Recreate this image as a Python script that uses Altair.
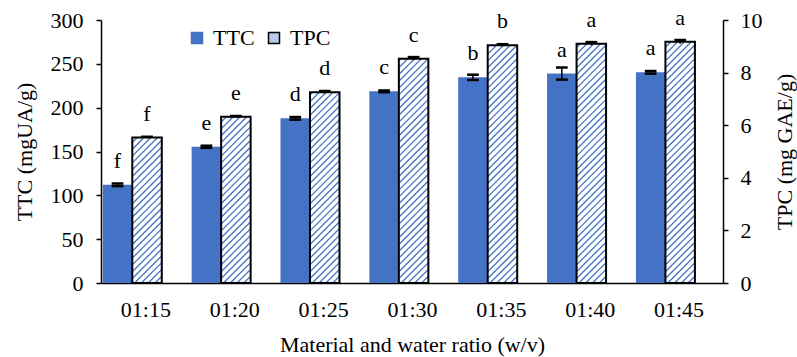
import json
import altair as alt
import pandas as pd

# ---------------- data ----------------
categories = ["01:15", "01:20", "01:25", "01:30", "01:35", "01:40", "01:45"]
ttc = [112.0, 155.4, 187.8, 218.6, 234.6, 238.9, 240.3]
ttc_err = [1.5, 1.2, 1.5, 1.0, 3.0, 6.9, 1.5]
tpc = [5.53, 6.32, 7.25, 8.53, 9.04, 9.10, 9.17]
tpc_err = [0.03, 0.03, 0.05, 0.06, 0.04, 0.06, 0.07]
ttc_letters = ["f", "e", "d", "c", "b", "a", "a"]
tpc_letters = ["f", "e", "d", "c", "b", "a", "a"]

# ---------------- layout constants ----------------
W, H = 622, 263
PXX = W / 7.0          # px per category unit
PXY = H / 10.0         # px per TPC unit
TTC_L, TTC_R = 0.02, 0.352
TPC_L, TPC_R = 0.352, 0.684
TTC_C = (TTC_L + TTC_R) / 2
TPC_C = (TPC_L + TPC_R) / 2
CAP = 0.066
BW = (TPC_R - TPC_L) * PXX
S = 6.8
FONT = "Liberation Serif"
FS = 22
BLUE = "#4472C4"

df = pd.DataFrame({
    "idx": list(range(len(categories))),
    "cat": categories,
    "ttc": ttc, "ttc_err": ttc_err,
    "tpc": tpc, "tpc_err": tpc_err,
    "ttc_lab": ttc_letters, "tpc_lab": tpc_letters,
})

base = alt.Chart(df)


def xs():
    return alt.Scale(domain=[0, 7], nice=False, zero=False)


def yl():
    return alt.Scale(domain=[0, 300], nice=False, zero=True)


def yr():
    return alt.Scale(domain=[0, 10], nice=False, zero=True)


def x_axis():
    return alt.Axis(
        values=[i + 0.5 for i in range(len(categories))],
        labelExpr=json.dumps(categories) + "[floor(datum.value)]",
        ticks=False, grid=False, labelPadding=16, labelFlush=False,
        title="Material and water ratio (w/v)", titlePadding=14,
    )


def X(field):
    return alt.X(field, scale=xs(), axis=x_axis())


yl_axis = alt.Axis(
    orient="left", values=list(range(0, 301, 50)), tickSize=5, grid=False,
    labelPadding=13, labelFlush=False, title="TTC (mgUA/g)", titlePadding=14,
)
yr_axis = alt.Axis(
    orient="right", values=list(range(0, 11, 2)), tickSize=5, grid=False,
    labelPadding=12, labelFlush=False, title="TPC (mg GAE/g)",
    titleAngle=270, titleBaseline="top", titlePadding=12,
)

legend = alt.Legend(
    orient="none", legendX=85, legendY=7, direction="horizontal", title=None,
    symbolType="square", symbolSize=121, labelFontSize=FS, labelFont=FONT,
    labelColor="black", symbolStrokeWidth=1.5,
    symbolStrokeColor={"expr": "datum.value == 'TPC' ? 'black' : '" + BLUE + "'"},
    columnPadding=8, labelOffset=5, padding=0, symbolOpacity=1,
)

# ---------------- TTC (left axis) ----------------
ttc_bar = base.transform_calculate(
    bx0=f"datum.idx + {TTC_L}", bx1=f"datum.idx + {TTC_R}", s="'TTC'"
).mark_rect().encode(
    x=X("bx0:Q"),
    x2="bx1:Q",
    y=alt.Y("ttc:Q", scale=yl(), axis=yl_axis),
    y2=alt.datum(0),
    fill=alt.Fill("s:N", scale=alt.Scale(domain=["TTC", "TPC"], range=[BLUE, "#b9c9ea"]), legend=legend),
)

ttc_eb = base.transform_calculate(
    cx=f"datum.idx + {TTC_C}", lo="datum.ttc - datum.ttc_err", hi="datum.ttc + datum.ttc_err"
).mark_rule(color="black", strokeWidth=1.5).encode(
    x=X("cx:Q"),
    y=alt.Y("lo:Q", scale=yl(), axis=None), y2="hi:Q",
)
ttc_cap_hi = base.transform_calculate(
    ca=f"datum.idx + {TTC_C - CAP}", cb=f"datum.idx + {TTC_C + CAP}", hi="datum.ttc + datum.ttc_err"
).mark_rule(color="black", strokeWidth=2.5).encode(
    x=X("ca:Q"), x2="cb:Q",
    y=alt.Y("hi:Q", scale=yl(), axis=None),
)
ttc_cap_lo = base.transform_calculate(
    ca=f"datum.idx + {TTC_C - CAP}", cb=f"datum.idx + {TTC_C + CAP}", lo="datum.ttc - datum.ttc_err"
).mark_rule(color="black", strokeWidth=2.5).encode(
    x=X("ca:Q"), x2="cb:Q",
    y=alt.Y("lo:Q", scale=yl(), axis=None),
)
ttc_txt = base.transform_calculate(cx=f"datum.idx + {TTC_C}").mark_text(
    font=FONT, fontSize=FS, color="black", baseline="alphabetic", dy=-17
).encode(
    x=X("cx:Q"),
    y=alt.Y("ttc:Q", scale=yl(), axis=None),
    text="ttc_lab:N",
)

# ---------------- TPC (right axis) ----------------
tpc_fill = base.transform_calculate(
    bx0=f"datum.idx + {TPC_L}", bx1=f"datum.idx + {TPC_R}"
).mark_rect(fill="white").encode(
    x=X("bx0:Q"), x2="bx1:Q",
    y=alt.Y("tpc:Q", scale=yr(), axis=yr_axis), y2=alt.datum(0),
)

hatch = base.transform_calculate(
    seq="sequence(0, 60)"
).transform_flatten(["seq"]).transform_calculate(
    hp=f"datum.tpc * {PXY}",
    t=f"datum.seq * {S} - {BW}",
).transform_filter("datum.t < datum.hp").transform_calculate(
    xs_="datum.t >= 0 ? 0 : -datum.t",
    ys_="datum.t >= 0 ? datum.t : 0",
    xe_=f"datum.t + {BW} <= datum.hp ? {BW} : datum.hp - datum.t",
    ye_=f"datum.t + {BW} <= datum.hp ? datum.t + {BW} : datum.hp",
    hx1=f"datum.idx + {TPC_L} + datum.xs_ / {PXX}",
    hy1=f"datum.ys_ / {PXY}",
    hx2=f"datum.idx + {TPC_L} + datum.xe_ / {PXX}",
    hy2=f"datum.ye_ / {PXY}",
).mark_rule(color=BLUE, strokeWidth=1.3).encode(
    x=X("hx1:Q"), x2="hx2:Q",
    y=alt.Y("hy1:Q", scale=yr(), axis=None), y2="hy2:Q",
)

tpc_stroke = base.transform_calculate(
    bx0=f"datum.idx + {TPC_L}", bx1=f"datum.idx + {TPC_R}"
).mark_rect(fillOpacity=0, stroke="black", strokeWidth=2).encode(
    x=X("bx0:Q"), x2="bx1:Q",
    y=alt.Y("tpc:Q", scale=yr(), axis=None), y2=alt.datum(0),
)

tpc_eb = base.transform_calculate(
    cx=f"datum.idx + {TPC_C}", lo="datum.tpc - datum.tpc_err", hi="datum.tpc + datum.tpc_err"
).mark_rule(color="black", strokeWidth=1.5).encode(
    x=X("cx:Q"),
    y=alt.Y("lo:Q", scale=yr(), axis=None), y2="hi:Q",
)
tpc_cap_hi = base.transform_calculate(
    ca=f"datum.idx + {TPC_C - CAP}", cb=f"datum.idx + {TPC_C + CAP}", hi="datum.tpc + datum.tpc_err"
).mark_rule(color="black", strokeWidth=2.5).encode(
    x=X("ca:Q"), x2="cb:Q",
    y=alt.Y("hi:Q", scale=yr(), axis=None),
)
tpc_txt = base.transform_calculate(cx=f"datum.idx + {TPC_C}").mark_text(
    font=FONT, fontSize=FS, color="black", baseline="alphabetic", dy=-17
).encode(
    x=X("cx:Q"),
    y=alt.Y("tpc:Q", scale=yr(), axis=None),
    text="tpc_lab:N",
)

chart = alt.layer(
    ttc_bar, ttc_eb, ttc_cap_hi, ttc_cap_lo, ttc_txt,
    tpc_fill, hatch, tpc_stroke, tpc_eb, tpc_cap_hi, tpc_txt,
).resolve_scale(y="independent").properties(
    width=W, height=H,
    padding={"left": 101, "top": 20, "right": 74, "bottom": 74},
    autosize=alt.AutoSizeParams(type="none"),
    background="white",
).configure_view(stroke=None).configure_axis(
    labelFont=FONT, labelFontSize=FS, labelColor="black",
    titleFont=FONT, titleFontSize=FS, titleFontWeight="normal", titleColor="black",
    domainColor="black", domainWidth=1.5, tickColor="black", tickWidth=1.5,
)

chart.save("out.html", embed_options={"renderer": "svg", "actions": False})
